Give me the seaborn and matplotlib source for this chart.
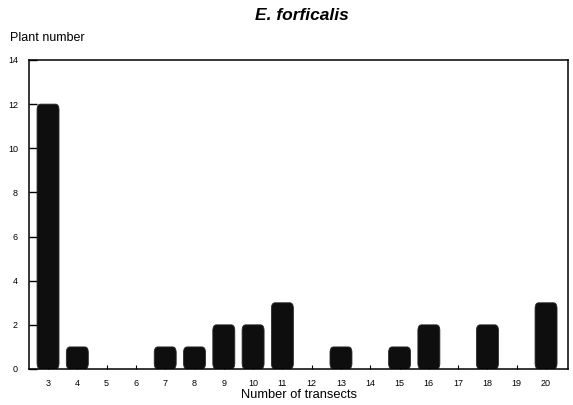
import matplotlib
matplotlib.use("Agg")
import matplotlib.pyplot as plt
import seaborn as sns
import pandas as pd
from matplotlib.patches import FancyBboxPatch

# Number of transects in which a plant occurs, and how many plants do so
transects = [3, 4, 5, 6, 7, 8, 9, 10, 11, 12, 13, 14, 15, 16, 17, 18, 19, 20]
plants = [12, 1, 0, 0, 1, 1, 2, 2, 3, 0, 1, 0, 1, 2, 0, 2, 0, 3]
y_ticks = [0, 2, 4, 6, 8, 10, 12, 14]

df = pd.DataFrame({"transects": [str(t) for t in transects], "plants": plants})

sns.set_style("white", {"text.color": "black", "axes.labelcolor": "black",
                        "xtick.color": "black", "ytick.color": "black",
                        "axes.edgecolor": "black"})
plt.rcParams["font.family"] = ["Liberation Sans", "DejaVu Sans"]

fig = plt.figure(figsize=(5.73, 4.05), dpi=100)
ax = fig.add_axes([0.0506, 0.0889, 0.9407, 0.763])

bar_color = "#0e0e0e"
sns.barplot(data=df, x="transects", y="plants", color=bar_color,
            width=0.75, saturation=1, ax=ax)

# Give the bars softly bevelled corners
for p in list(ax.patches):
    h = p.get_height()
    x0, w = p.get_x(), p.get_width()
    p.remove()
    if h <= 0:
        continue
    fb = FancyBboxPatch((x0, 0), w, h,
                        boxstyle="round,pad=0,rounding_size=0.12",
                        mutation_aspect=2.2,
                        facecolor=bar_color, edgecolor="#2a2a2a", lw=0.6)
    ax.add_patch(fb)

ax.set_xlim(-0.65, 17.75)
ax.set_ylim(0, 14)
ax.set_yticks(y_ticks)
ax.set_yticklabels([str(v) for v in y_ticks])

for s in ax.spines.values():
    s.set_visible(True)
    s.set_color("black")
    s.set_linewidth(1.1)

ax.tick_params(axis="y", direction="in", length=6, width=1.0,
               labelsize=6.5, pad=8, left=True, colors="black")
ax.tick_params(axis="x", direction="in", length=3, width=0.8,
               labelsize=6.5, pad=7, bottom=True, colors="black")

ax.set_xlabel("Number of transects", fontsize=9.3, labelpad=1, color="black")
ax.set_ylabel("")
fig.text(0.017, 0.906, "Plant number", fontsize=9, ha="left", va="center",
         color="black")
fig.text(0.526, 0.962, "E. forficalis", fontsize=12.5, fontweight="bold",
         fontstyle="italic", ha="center", va="center", color="black")

fig.savefig("out.png", dpi=100)
